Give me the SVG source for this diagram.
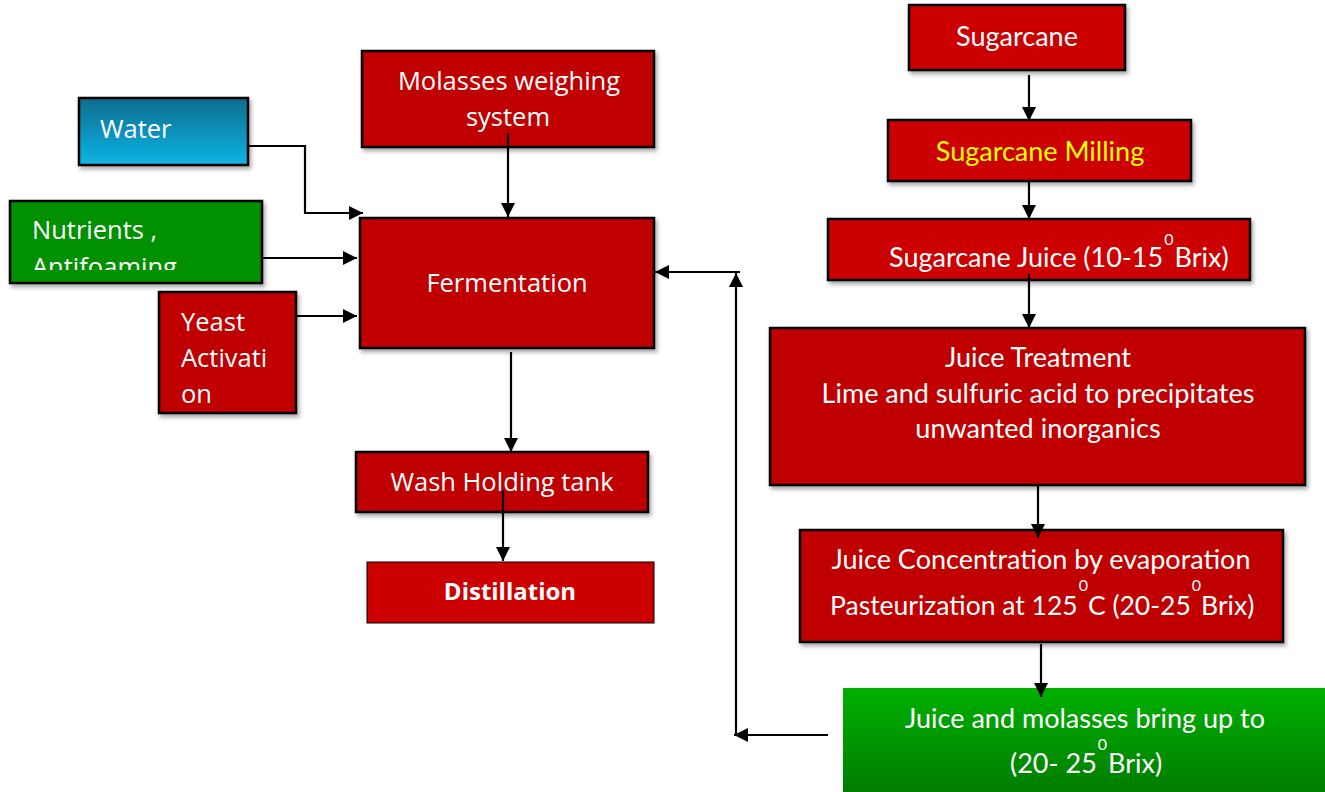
<svg xmlns="http://www.w3.org/2000/svg" width="1325" height="792" viewBox="0 0 1325 792">
<defs>
<linearGradient id="gBlue" x1="0" y1="0" x2="0" y2="1"><stop offset="0" stop-color="#0b6d8e"/><stop offset="1" stop-color="#12b4e6"/></linearGradient>
<linearGradient id="gGreen" x1="0" y1="0" x2="0" y2="1"><stop offset="0" stop-color="#00b000"/><stop offset="1" stop-color="#007a00"/></linearGradient>
<filter id="sh" x="-5%" y="-5%" width="115%" height="130%"><feDropShadow dx="2" dy="3" stdDeviation="2" flood-color="#000" flood-opacity="0.35"/></filter>
<marker id="a" viewBox="0 0 10 10" refX="10" refY="5" markerWidth="15" markerHeight="14" orient="auto" markerUnits="userSpaceOnUse"><path d="M0,0 L10,5 L0,10 z" fill="#000"/></marker>
<clipPath id="cN"><rect x="10" y="201" width="252" height="69"/></clipPath>
</defs>
<style>
.box{stroke:#000;stroke-width:2.5;filter:url(#sh)}
.red{fill:#c00000}
.red2{fill:#cc0000}
.t{font-family:"Open Sans","Noto Sans",sans-serif;font-size:25.5px;fill:#fff}
.c{text-anchor:middle}
.r{font-family:"Lato","Open Sans",sans-serif;font-size:27px;fill:#fff}
.sup{font-size:16px}
.ln{fill:none;stroke:#000;stroke-width:2.2;marker-end:url(#a)}
</style>
<g id="water"><rect class="box" x="79" y="98" width="169" height="67" fill="url(#gBlue)"/><text class="t" x="100" y="138">Water</text></g>
<g id="nutrients"><rect class="box" x="10" y="201" width="252" height="82" fill="#009000"/><g clip-path="url(#cN)"><text class="t" x="32" y="239">Nutrients ,</text><text class="t" x="32" y="276">Antifoaming</text></g></g>
<g id="yeast"><rect class="box red" x="159" y="292" width="137" height="121"/><text class="t" x="181" y="331">Yeast</text><text class="t" x="181" y="367">Activati</text><text class="t" x="181" y="403">on</text></g>
<g id="molasses"><rect class="box red" x="362" y="51" width="292" height="96"/><text class="t c" x="509" y="90">Molasses weighing</text><text class="t c" x="508" y="126">system</text></g>
<g id="fermentation"><rect class="box red" x="360" y="218" width="294" height="130"/><text class="t c" x="507" y="292">Fermentation</text></g>
<g id="wash"><rect class="box red" x="356" y="452" width="292" height="60"/><text class="t c" x="502" y="491">Wash Holding tank</text></g>
<g id="distillation"><rect x="367" y="562" width="287" height="61" fill="#cc0000" stroke="#000" stroke-width="1"/><text class="t c" x="510" y="600" font-weight="bold" style="font-size:24px">Distillation</text></g>
<g id="sugarcane"><rect class="box red2" x="909" y="5" width="216" height="65"/><text class="r c" x="1017" y="46">Sugarcane</text></g>
<g id="milling"><rect class="box red2" x="888" y="120" width="303" height="61"/><text class="r c" x="1040" y="161" style="fill:#ffff00">Sugarcane Milling</text></g>
<g id="juice"><rect class="box red2" x="828" y="219" width="422" height="61"/><text class="r" x="889" y="267">Sugarcane Juice (10-15<tspan class="sup" dx="1" dy="-22">0</tspan><tspan dx="1" dy="22">Brix)</tspan></text></g>
<g id="treatment"><rect class="box red" x="770" y="328" width="535" height="157"/><text class="r c" x="1038" y="367">Juice Treatment</text><text class="r c" x="1038" y="403">Lime and sulfuric acid to precipitates</text><text class="r c" x="1038" y="438">unwanted inorganics</text></g>
<g id="concentration"><rect class="box red" x="800" y="530" width="483" height="112"/><text class="r c" x="1041" y="569">Juice Concentration by evaporation</text><text class="r" x="830" y="615" style="font-size:26.5px">Pasteurization at 125<tspan class="sup" dx="1" dy="-24">0</tspan><tspan dy="24">C (20-25</tspan><tspan class="sup" dx="1" dy="-24">0</tspan><tspan dy="24">Brix)</tspan></text></g>
<g id="bringup"><rect x="843" y="688" width="490" height="110" fill="url(#gGreen)" filter="url(#sh)"/><text class="r c" x="1085" y="728">Juice and molasses bring up to</text><text class="r" x="1010" y="773">(20- 25<tspan class="sup" dx="1" dy="-23">0</tspan><tspan dx="1" dy="23">Brix)</tspan></text></g>
<g id="connectors">
<path class="ln" d="M248,146 H305 V213 H363"/>
<path class="ln" d="M262,258 H357"/>
<path class="ln" d="M296,316 H357"/>
<path class="ln" d="M508,133 V217"/>
<path class="ln" d="M511,352 V452"/>
<path class="ln" d="M503,490 V561"/>
<path class="ln" d="M1029,75 V121"/>
<path class="ln" d="M1029,182 V219"/>
<path class="ln" d="M1029,274 V328"/>
<path class="ln" d="M1038,486 V538"/>
<path class="ln" d="M1041,644 V697"/>
<path class="ln" d="M828,735 H734"/>
<path class="ln" d="M736,735 V273"/>
<path class="ln" d="M740,272 H655"/>
</g>
</svg>
